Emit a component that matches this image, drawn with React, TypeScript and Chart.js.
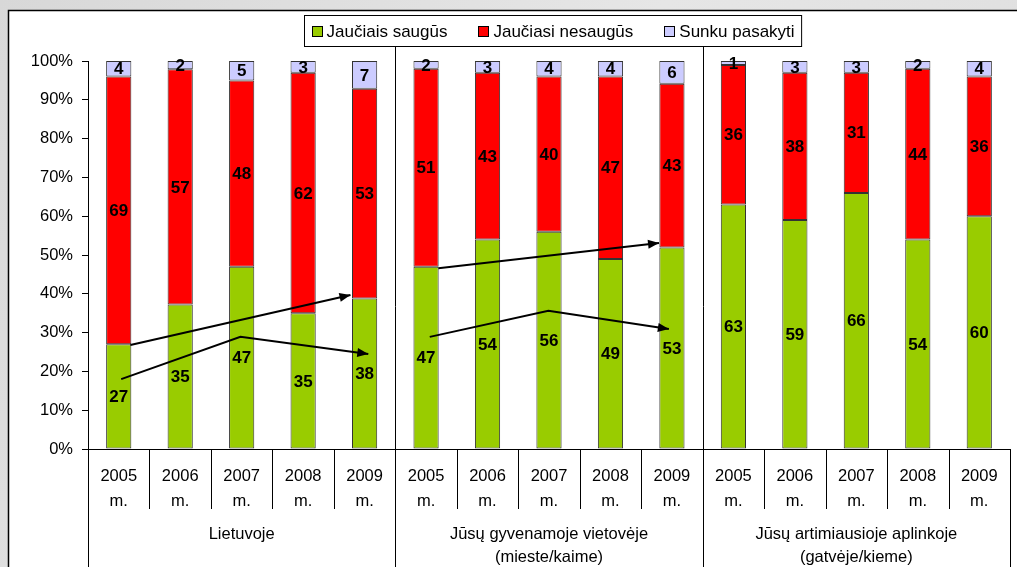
import React, { useEffect, useRef } from 'react';
import { Chart, registerables } from 'chart.js';

Chart.register(...registerables);

const years = ['2005', '2006', '2007', '2008', '2009'];
const groupNames: string[][] = [
  ['Lietuvoje'],
  ['Jūsų gyvenamoje vietovėje', '(mieste/kaime)'],
  ['Jūsų artimiausioje aplinkoje', '(gatvėje/kieme)'],
];
const seriesNames = ['Jaučiais saugūs', 'Jaučiasi nesaugūs', 'Sunku pasakyti'];
const safe = [27, 35, 47, 35, 38, 47, 54, 56, 49, 53, 63, 59, 66, 54, 60];
const unsafe = [69, 57, 48, 62, 53, 51, 43, 40, 47, 43, 36, 38, 31, 44, 36];
const hard = [4, 2, 5, 3, 7, 2, 3, 4, 4, 6, 1, 3, 3, 2, 4];
const seriesColors = ['#99CC00', '#FF0000', '#CCCCFF'];

// trend arrows in data coordinates: [category index, percent]
const arrowA = [[0.19, 26.8], [3.77, 39.7]];
const arrowB = [[0.04, 18], [1.98, 28.9], [4.06, 24.5]];
const arrowC = [[5.2, 46.6], [8.79, 53.1]];
const arrowD = [[5.06, 28.9], [6.99, 35.6], [8.95, 30.9]];
const arrows = [arrowA, arrowB, arrowC, arrowD];

const FONT = "'Liberation Sans', Arial, sans-serif";
const FS = 16.5;

const labels: string[][] = [];
groupNames.forEach(() => years.forEach((y) => labels.push([y, 'm.'])));

const raw = [safe, unsafe, hard];
const totals = safe.map((v, i) => v + unsafe[i] + hard[i]);
const pct = raw.map((s) => s.map((v, i) => (v / totals[i]) * 100));

const deco = {
  id: 'deco',
  beforeDraw(chart: any) {
    const { ctx, width, height } = chart;
    ctx.save();
    const g = ctx.createLinearGradient(0, 0, width, height);
    g.addColorStop(0, '#d8d8d8');
    g.addColorStop(0.5, '#e6e6e6');
    g.addColorStop(1, '#dcdcdc');
    ctx.fillStyle = g;
    ctx.fillRect(0, 0, width, height);
    ctx.fillStyle = '#ffffff';
    ctx.fillRect(8, 10, width - 8, height - 10);
    ctx.strokeStyle = '#000';
    ctx.lineWidth = 1.5;
    ctx.beginPath();
    ctx.moveTo(8.5, height);
    ctx.lineTo(8.5, 10.5);
    ctx.lineTo(width, 10.5);
    ctx.stroke();
    ctx.restore();
  },
  afterDatasetsDraw(chart: any) {
    const { ctx } = chart;
    const xs = chart.scales.x;
    const ys = chart.scales.y;
    ctx.save();
    ctx.font = `bold 17px ${FONT}`;
    ctx.fillStyle = '#000';
    ctx.textAlign = 'center';
    ctx.textBaseline = 'middle';
    raw.forEach((series, di) => {
      const meta = chart.getDatasetMeta(di);
      meta.data.forEach((el: any, i: number) => {
        const cy = (el.y + el.base) / 2;
        ctx.fillText(String(series[i]), el.x, cy + 1);
      });
    });
    // arrows
    ctx.strokeStyle = '#000';
    ctx.fillStyle = '#000';
    ctx.lineWidth = 2;
    arrows.forEach((pts) => {
      const p = pts.map(([xi, v]) => [xs.getPixelForValue(xi), ys.getPixelForValue(v)]);
      ctx.beginPath();
      ctx.moveTo(p[0][0], p[0][1]);
      for (let k = 1; k < p.length; k++) ctx.lineTo(p[k][0], p[k][1]);
      ctx.stroke();
      const a = p[p.length - 2];
      const b = p[p.length - 1];
      const ang = Math.atan2(b[1] - a[1], b[0] - a[0]);
      const L = 11;
      const W = 4.5;
      ctx.beginPath();
      ctx.moveTo(b[0], b[1]);
      ctx.lineTo(b[0] - L * Math.cos(ang) + W * Math.sin(ang), b[1] - L * Math.sin(ang) - W * Math.cos(ang));
      ctx.lineTo(b[0] - L * Math.cos(ang) - W * Math.sin(ang), b[1] - L * Math.sin(ang) + W * Math.cos(ang));
      ctx.closePath();
      ctx.fill();
    });
    ctx.restore();
  },
  afterDraw(chart: any) {
    const { ctx, chartArea, height } = chart;
    const { left, right, top, bottom } = chartArea;
    const n = labels.length;
    const w = (right - left) / n;
    ctx.save();
    ctx.strokeStyle = '#000';
    ctx.lineWidth = 1;
    const vline = (x: number, y0: number, y1: number) => {
      const xx = Math.round(x) + 0.5;
      ctx.beginPath();
      ctx.moveTo(xx, y0);
      ctx.lineTo(xx, y1);
      ctx.stroke();
    };
    const by = Math.round(bottom) + 0.5;
    ctx.beginPath();
    ctx.moveTo(left, by);
    ctx.lineTo(right, by);
    ctx.stroke();
    for (let i = 0; i <= n; i++) {
      const x = left + i * w;
      if (i === 0) vline(x, top, height);
      else if (i === n) vline(x, bottom, height);
      else if (i % years.length === 0) vline(x, 46, height);
      else vline(x, bottom, bottom + 60);
    }
    // group labels
    ctx.fillStyle = '#000';
    ctx.font = `${FS}px ${FONT}`;
    ctx.textAlign = 'center';
    ctx.textBaseline = 'middle';
    groupNames.forEach((lines, gi) => {
      const cx = left + (gi * years.length + years.length / 2) * w;
      lines.forEach((t, li) => ctx.fillText(t, cx, 534 + li * 23));
    });
    // legend
    ctx.font = `17px ${FONT}`;
    const sq = 10;
    const gapText = 5;
    const gapItem = 31;
    const pad = 7;
    const widths = seriesNames.map((s) => ctx.measureText(s).width);
    let total = pad * 2;
    widths.forEach((tw, i) => {
      total += sq + gapText + tw + (i < widths.length - 1 ? gapItem : 0);
    });
    const cx = (left + right) / 2 + 4;
    const bx = Math.round(cx - total / 2) + 0.5;
    const byy = 15.5;
    const bh = 31;
    ctx.fillStyle = '#fff';
    ctx.fillRect(bx, byy, total, bh);
    ctx.strokeStyle = '#000';
    ctx.strokeRect(bx, byy, total, bh);
    let x = bx + pad;
    const cyy = byy + bh / 2;
    ctx.textAlign = 'left';
    seriesNames.forEach((s, i) => {
      ctx.fillStyle = seriesColors[i];
      ctx.fillRect(Math.round(x) + 0.5, Math.round(cyy - 5) + 0.5, sq, sq);
      ctx.strokeStyle = '#000';
      ctx.strokeRect(Math.round(x) + 0.5, Math.round(cyy - 5) + 0.5, sq, sq);
      ctx.fillStyle = '#000';
      ctx.fillText(s, x + sq + gapText, cyy + 1);
      x += sq + gapText + widths[i] + gapItem;
    });
    ctx.restore();
  },
};

export default function App() {
  const ref = useRef<HTMLCanvasElement | null>(null);
  useEffect(() => {
    if (!ref.current) return;
    const chart = new Chart(ref.current, {
      type: 'bar',
      data: {
        labels,
        datasets: pct.map((d, i) => ({
          label: seriesNames[i],
          data: d,
          backgroundColor: seriesColors[i],
          borderColor: '#333333',
          borderWidth: 1,
          borderSkipped: false,
          categoryPercentage: 1,
          barPercentage: 0.41,
        })),
      },
      options: {
        responsive: false,
        animation: false,
        events: [],
        layout: { padding: { left: 10, right: 7, top: 61, bottom: 0 } },
        plugins: { legend: { display: false }, tooltip: { enabled: false } },
        scales: {
          x: {
            stacked: true,
            offset: true,
            grid: { display: false },
            border: { display: false },
            ticks: {
              color: '#000',
              font: { family: FONT, size: FS, lineHeight: 1.5 },
              padding: 7,
              maxRotation: 0,
              autoSkip: false,
            },
            afterFit: (s: any) => {
              s.height = 118;
            },
          },
          y: {
            stacked: true,
            min: 0,
            max: 100,
            grid: { drawOnChartArea: false, drawTicks: true, tickLength: 6, color: '#000' },
            border: { display: true, color: '#000' },
            ticks: {
              stepSize: 10,
              color: '#000',
              font: { family: FONT, size: FS },
              padding: 9,
              callback: (v: any) => `${v}%`,
            },
            afterFit: (s: any) => {
              s.width = 78;
            },
          },
        },
      },
      plugins: [deco],
    });
    return () => chart.destroy();
  }, []);
  return (
    <div style={{ position: 'absolute', left: 0, top: 0, width: 1017, height: 567 }}>
      <canvas ref={ref} width={1017} height={567} style={{ width: 1017, height: 567, display: 'block' }} />
    </div>
  );
}
